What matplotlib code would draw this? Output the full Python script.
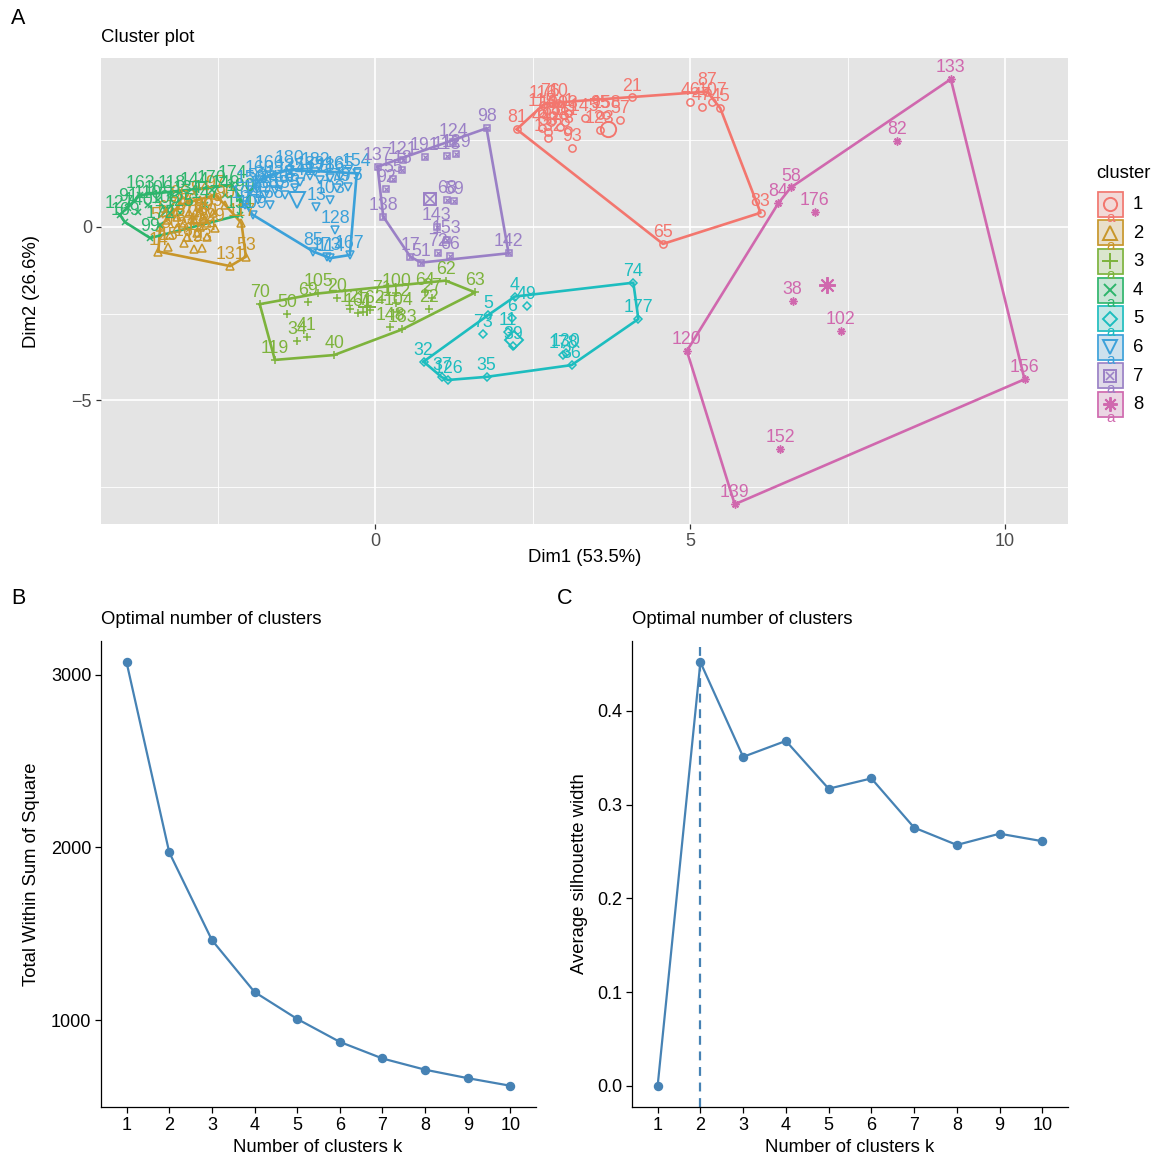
import numpy as np
import matplotlib
matplotlib.use("Agg")
import matplotlib.pyplot as plt
from matplotlib.patches import Rectangle

plt.rcParams['font.family'] = ['Liberation Sans', 'DejaVu Sans']

# ---------------- data: panel A (Dim1 / Dim2 coordinates) ----------------
c1_x = [2.25, 4.08, 5.00, 5.19, 5.27, 5.35, 5.48, 6.12, 4.57, 3.13, 3.89, 3.57, 3.67, 3.57, 2.67, 2.78, 2.91, 2.65, 2.83, 2.99, 3.07, 2.65, 2.75, 2.94, 3.07, 2.80, 3.02, 2.75, 3.33]
c1_y = [2.82, 3.74, 3.62, 3.46, 3.91, 3.60, 3.43, 0.41, -0.49, 2.27, 3.09, 3.24, 3.24, 2.80, 3.53, 3.58, 3.58, 3.29, 3.24, 3.24, 3.29, 2.85, 2.75, 2.90, 2.80, 3.04, 3.04, 2.57, 3.15]
c1_lab = ['81', '21', '46', '47', '87', '107', '45', '83', '65', '93', '57', '95', '158', '123', '116', '76', '10', '115', '101', '103', '1', '44', '33', '28', '3', '88', '111', '132', '145']

c2_x = [-3.44, -2.30, -2.05, -2.12, -3.28, -3.04, -2.88, -2.75, -2.67, -2.54, -3.25, -2.99, -2.83, -3.15, -2.78, -3.41, -2.67, -3.04, -3.31, -2.88, -3.15, -2.73, -2.96, -2.57, -2.38, -2.78, -3.10, -2.54]
c2_y = [-0.71, -1.13, -0.86, 0.11, -0.57, -0.45, -0.64, -0.62, -0.28, -0.04, -0.23, -0.28, -0.18, -0.04, 0.01, 0.01, 0.11, 0.11, 0.20, 0.20, 0.30, 0.30, 0.40, 0.40, 0.64, 0.78, 0.64, 0.92]
c2_lab = ['14', '131', '53', '117', '15', '16', '19', '23', '24', '29', '30', '31', '42', '43', '48', '54', '60', '61', '67', '78', '79', '80', '86', '89', '90', '94', '96', '97']

c3_x = [-1.83, -1.59, -0.65, 1.59, 1.12, 0.79, -1.40, -1.06, -0.90, -0.61, -0.40, -0.27, -0.19, -0.08, 0.11, 0.34, 0.34, 0.37, 0.24, 0.43, 0.90, 0.86, -1.24, -1.08]
c3_y = [-2.23, -3.84, -3.70, -1.89, -1.55, -1.87, -2.52, -2.18, -1.92, -2.06, -2.38, -2.48, -2.45, -2.40, -2.11, -1.92, -2.19, -2.45, -2.88, -2.96, -2.06, -2.38, -3.29, -3.19]
c3_lab = ['70', '119', '40', '63', '62', '64', '50', '69', '105', '20', '12', '161', '7', '162', '71', '100', '112', '104', '148', '183', '27', '22', '34', '41']

c4_x = [-4.05, -3.92, -3.76, -3.60, -3.57, -3.44, -3.33, -3.22, -3.10, -2.97, -2.86, -2.70, -2.59, -2.38, -2.14, -2.27, -3.73, -3.97, -3.41, -2.14]
c4_y = [0.35, 0.55, 0.43, 0.64, -0.32, 0.78, 0.49, 0.92, 0.40, 0.78, 1.01, 0.64, 1.07, 0.92, 0.35, 1.21, 0.92, 0.14, 0.06, 0.84]
c4_lab = ['127', '91', '140', '110', '99', '106', '108', '118', '125', '134', '144', '147', '170', '149', '151', '174', '163', '169', '172', '190']

c5_x = [2.22, 4.10, 4.18, 3.12, 3.03, 2.99, 1.77, 1.16, 1.06, 0.77, 1.80, 1.72, 2.41, 2.17, 2.11, 2.19]
c5_y = [-2.01, -1.61, -2.66, -3.99, -3.63, -3.70, -4.33, -4.42, -4.34, -3.89, -2.54, -3.09, -2.28, -2.63, -3.03, -3.44]
c5_lab = ['4', '74', '177', '36', '130', '178', '35', '126', '37', '32', '5', '73', '49', '6', '11', '39']

c6_x = [-0.29, -0.40, -0.71, -0.77, -0.98, -1.94, -0.63, -0.93, -0.71, -0.61, -0.43, -1.87, -1.83, -1.67, -1.51, -1.35, -1.19, -1.03, -0.87, -0.71, -0.56, -1.75, -1.59, -1.98, -1.43, -1.27, -1.86, -2.06, -1.67, -1.35, -0.95]
c6_y = [1.55, -0.81, -0.90, -0.86, -0.71, 0.35, -0.09, 0.59, 0.78, 1.13, 1.16, 1.13, 1.36, 1.50, 1.21, 1.42, 1.30, 1.47, 1.36, 1.42, 1.47, 0.92, 1.07, 1.07, 0.92, 1.13, 0.78, 0.64, 0.64, 1.65, 1.59]
c6_lab = ['154', '167', '114', '173', '85', '109', '128', '13', '103', '179', '175', '56', '160', '166', '122', '135', '141', '189', '171', '186', '165', '136', '146', '150', '155', '157', '159', '164', '168', '180', '182']

c7_x = [0.04, 0.44, 0.43, 0.79, 1.14, 1.29, 1.24, 1.77, 0.28, 0.17, 0.13, 1.14, 1.26, 0.98, 1.14, 1.00, 1.19, 0.56, 0.73, 2.12]
c7_y = [1.74, 1.92, 1.65, 2.02, 2.06, 2.11, 2.44, 2.85, 1.39, 1.10, 0.30, 0.78, 0.75, -0.01, -0.38, -0.75, -0.83, -0.86, -1.03, -0.76]
c7_lab = ['137', '121', '18', '191', '113', '129', '124', '98', '55', '92', '138', '68', '59', '143', '153', '72', '66', '17', '51', '142']

c8_x = [9.14, 8.28, 6.60, 6.40, 6.98, 6.63, 7.39, 4.95, 10.31, 6.43, 5.71]
c8_y = [4.27, 2.47, 1.14, 0.68, 0.42, -2.13, -3.01, -3.58, -4.40, -6.40, -8.01]
c8_lab = ['133', '82', '58', '84', '176', '38', '102', '120', '156', '152', '139']

center_x = [3.70, -2.78, -0.13, -3.30, 2.20, -1.24, 0.87, 7.17]
center_y = [2.83, 0.35, -2.30, 0.50, -3.27, 0.78, 0.81, -1.68]
cluster_names = ['1', '2', '3', '4', '5', '6', '7', '8']

# ---------------- data: panels B and C ----------------
k_values = [1, 2, 3, 4, 5, 6, 7, 8, 9, 10]
wss = [3072, 1972, 1464, 1163, 1007, 874, 778, 713, 664, 620]
silhouette = [0.0, 0.452, 0.351, 0.368, 0.317, 0.328, 0.2755, 0.257, 0.269, 0.261]
optimal_k = 2

# ---------------- styles ----------------
colors = ['#F3766E', '#C8962A', '#7DB33C', '#2DB56C', '#1DBDBF', '#3BA1DA', '#9A80C6', '#D068AE']
W, H = 1158, 1159


def fx(px):
    return px / W


def fy(py):
    return 1 - py / H


def convex_hull(xs, ys):
    pts = sorted(set(zip(xs, ys)))
    if len(pts) < 3:
        return pts

    def cross(o, a, b):
        return (a[0] - o[0]) * (b[1] - o[1]) - (a[1] - o[1]) * (b[0] - o[0])
    lower = []
    for p in pts:
        while len(lower) >= 2 and cross(lower[-2], lower[-1], p) <= 0:
            lower.pop()
        lower.append(p)
    upper = []
    for p in reversed(pts):
        while len(upper) >= 2 and cross(upper[-2], upper[-1], p) <= 0:
            upper.pop()
        upper.append(p)
    return lower[:-1] + upper[:-1]


def draw_marker(ax, x, y, idx, size, color, zorder=4, transform=None):
    kw = dict(linestyle='none', color=color, zorder=zorder, clip_on=False)
    if transform is not None:
        kw['transform'] = transform
    mew = 1.1 if size < 8 else 1.4
    if idx == 0:
        ax.plot(x, y, marker='o', ms=size, mfc='none', mew=mew, **kw)
    elif idx == 1:
        ax.plot(x, y, marker='^', ms=size * 1.05, mfc='none', mew=mew, **kw)
    elif idx == 2:
        ax.plot(x, y, marker='+', ms=size * 1.2, mew=mew, **kw)
    elif idx == 3:
        ax.plot(x, y, marker='x', ms=size * 0.95, mew=mew, **kw)
    elif idx == 4:
        ax.plot(x, y, marker='D', ms=size * 0.8, mfc='none', mew=mew, **kw)
    elif idx == 5:
        ax.plot(x, y, marker='v', ms=size * 1.05, mfc='none', mew=mew, **kw)
    elif idx == 6:
        ax.plot(x, y, marker='s', ms=size * 0.85, mfc='none', mew=mew, **kw)
        ax.plot(x, y, marker='x', ms=size * 0.6, mew=mew * 0.8, **kw)
    else:
        ax.plot(x, y, marker=(8, 2, 0), ms=size * 1.1, mew=mew, **kw)


fig = plt.figure(figsize=(W / 100, H / 100), dpi=100)

# ================= Panel A =================
axA = fig.add_axes([fx(101), fy(524), fx(1068) - fx(101), fy(58) - fy(524)])
axA.set_facecolor('#E4E4E4')
axA.set_xlim(-4.35, 11.0)
axA.set_ylim(-8.58, 4.88)
axA.set_xticks([0, 5, 10])
axA.set_yticks([-5, 0])
axA.set_xticks([-2.5, 2.5, 7.5], minor=True)
axA.set_yticks([-7.5, -2.5, 2.5], minor=True)
axA.grid(which='major', color='white', lw=1.2)
axA.grid(which='minor', color='white', lw=0.6)
axA.set_axisbelow(True)
for s in axA.spines.values():
    s.set_visible(False)
axA.tick_params(which='major', length=3.5, width=0.9, color='#333333',
                labelcolor='#4D4D4D', labelsize=13, pad=3)
axA.tick_params(which='minor', length=0)

clusters = [(c1_x, c1_y, c1_lab), (c2_x, c2_y, c2_lab), (c3_x, c3_y, c3_lab),
            (c4_x, c4_y, c4_lab), (c5_x, c5_y, c5_lab), (c6_x, c6_y, c6_lab),
            (c7_x, c7_y, c7_lab), (c8_x, c8_y, c8_lab)]

for i, (xs, ys, labs) in enumerate(clusters):
    col = colors[i]
    hull = convex_hull(xs, ys)
    hx = [p[0] for p in hull] + [hull[0][0]]
    hy = [p[1] for p in hull] + [hull[0][1]]
    axA.plot(hx, hy, color=col, lw=1.9, zorder=3, solid_joinstyle='round')
    draw_marker(axA, xs, ys, i, 5.2, col, zorder=4)
    for x, y, lab in zip(xs, ys, labs):
        axA.annotate(lab, (x, y), xytext=(0, 5.0), textcoords='offset points',
                     ha='center', va='baseline', fontsize=12.8, color=col, zorder=5)
    draw_marker(axA, [center_x[i]], [center_y[i]], i, 11, col, zorder=4)

fig.text(fx(101), fy(38), 'Cluster plot', ha='left', va='center', fontsize=13.3)
fig.text(fx(585), fy(558), 'Dim1 (53.5%)', ha='center', va='center', fontsize=13.3)
fig.text(fx(32), fy(291), 'Dim2 (26.6%)', ha='center', va='center', fontsize=13.3, rotation=90)

# legend
axL = fig.add_axes([0, 0, 1, 1], zorder=10)
axL.set_xlim(0, W)
axL.set_ylim(H, 0)
axL.axis('off')
axL.text(1096, 174, 'cluster', ha='left', va='center', fontsize=13.3)
for i, name in enumerate(cluster_names):
    top = 191 + i * 28.6
    axL.add_patch(Rectangle((1097, top), 26.5, 26.5, facecolor='#F2F2F2', edgecolor='none'))
    axL.add_patch(Rectangle((1097, top), 26.5, 26.5, facecolor=colors[i], alpha=0.2, edgecolor='none'))
    axL.add_patch(Rectangle((1097.7, top + 0.7), 25.1, 25.1, facecolor='none', edgecolor=colors[i], lw=1.2))
    axL.text(1110.2, top + 26.5, 'a', ha='center', va='center', fontsize=11, color=colors[i], clip_on=True)
    draw_marker(axL, [1110.2], [top + 13.2], i, 9.5, colors[i], zorder=12)
    axL.text(1133, top + 13.5, name, ha='left', va='center', fontsize=13.3)

# panel letters
axL.text(18, 18, 'A', ha='center', va='center', fontsize=15.5)
axL.text(18, 598, 'B', ha='center', va='center', fontsize=15.5)
axL.text(565, 598, 'C', ha='center', va='center', fontsize=15.5)

# ================= Panels B and C =================
line_col = '#4682B4'


def classic(ax):
    for side in ['top', 'right']:
        ax.spines[side].set_visible(False)
    for side in ['left', 'bottom']:
        ax.spines[side].set_linewidth(0.9)
        ax.spines[side].set_color('black')
    ax.tick_params(length=4, width=0.9, color='black', labelcolor='black', labelsize=13, pad=3)
    ax.set_xlim(0.4, 10.6)
    ax.set_xticks(k_values)
    ax.set_facecolor('white')


axB = fig.add_axes([fx(101), fy(1107), fx(536) - fx(101), fy(641) - fy(1107)])
classic(axB)
axB.plot(k_values, wss, color=line_col, lw=1.6, marker='o', ms=5.8, zorder=3)
axB.set_ylim(497, 3196)
axB.set_yticks([1000, 2000, 3000])
fig.text(fx(101), fy(620), 'Optimal number of clusters', ha='left', va='center', fontsize=13.3)
fig.text(fx(318), fy(1148), 'Number of clusters k', ha='center', va='center', fontsize=13.3)
fig.text(fx(32), fy(874), 'Total Within Sum of Square', ha='center', va='center', fontsize=13.3, rotation=90)

axC = fig.add_axes([fx(632), fy(1107), fx(1068) - fx(632), fy(641) - fy(1107)])
classic(axC)
axC.plot(k_values, silhouette, color=line_col, lw=1.6, marker='o', ms=5.8, zorder=3)
axC.axvline(optimal_k, color=line_col, lw=1.6, ls=(0, (4, 3)), zorder=2)
axC.set_ylim(-0.0226, 0.4746)
axC.set_yticks([0.0, 0.1, 0.2, 0.3, 0.4])
axC.set_yticklabels(['0.0', '0.1', '0.2', '0.3', '0.4'])
fig.text(fx(632), fy(620), 'Optimal number of clusters', ha='left', va='center', fontsize=13.3)
fig.text(fx(850), fy(1148), 'Number of clusters k', ha='center', va='center', fontsize=13.3)
fig.text(fx(580), fy(874), 'Average silhouette width', ha='center', va='center', fontsize=13.3, rotation=90)

fig.savefig('out.png', dpi=100, facecolor='white')
